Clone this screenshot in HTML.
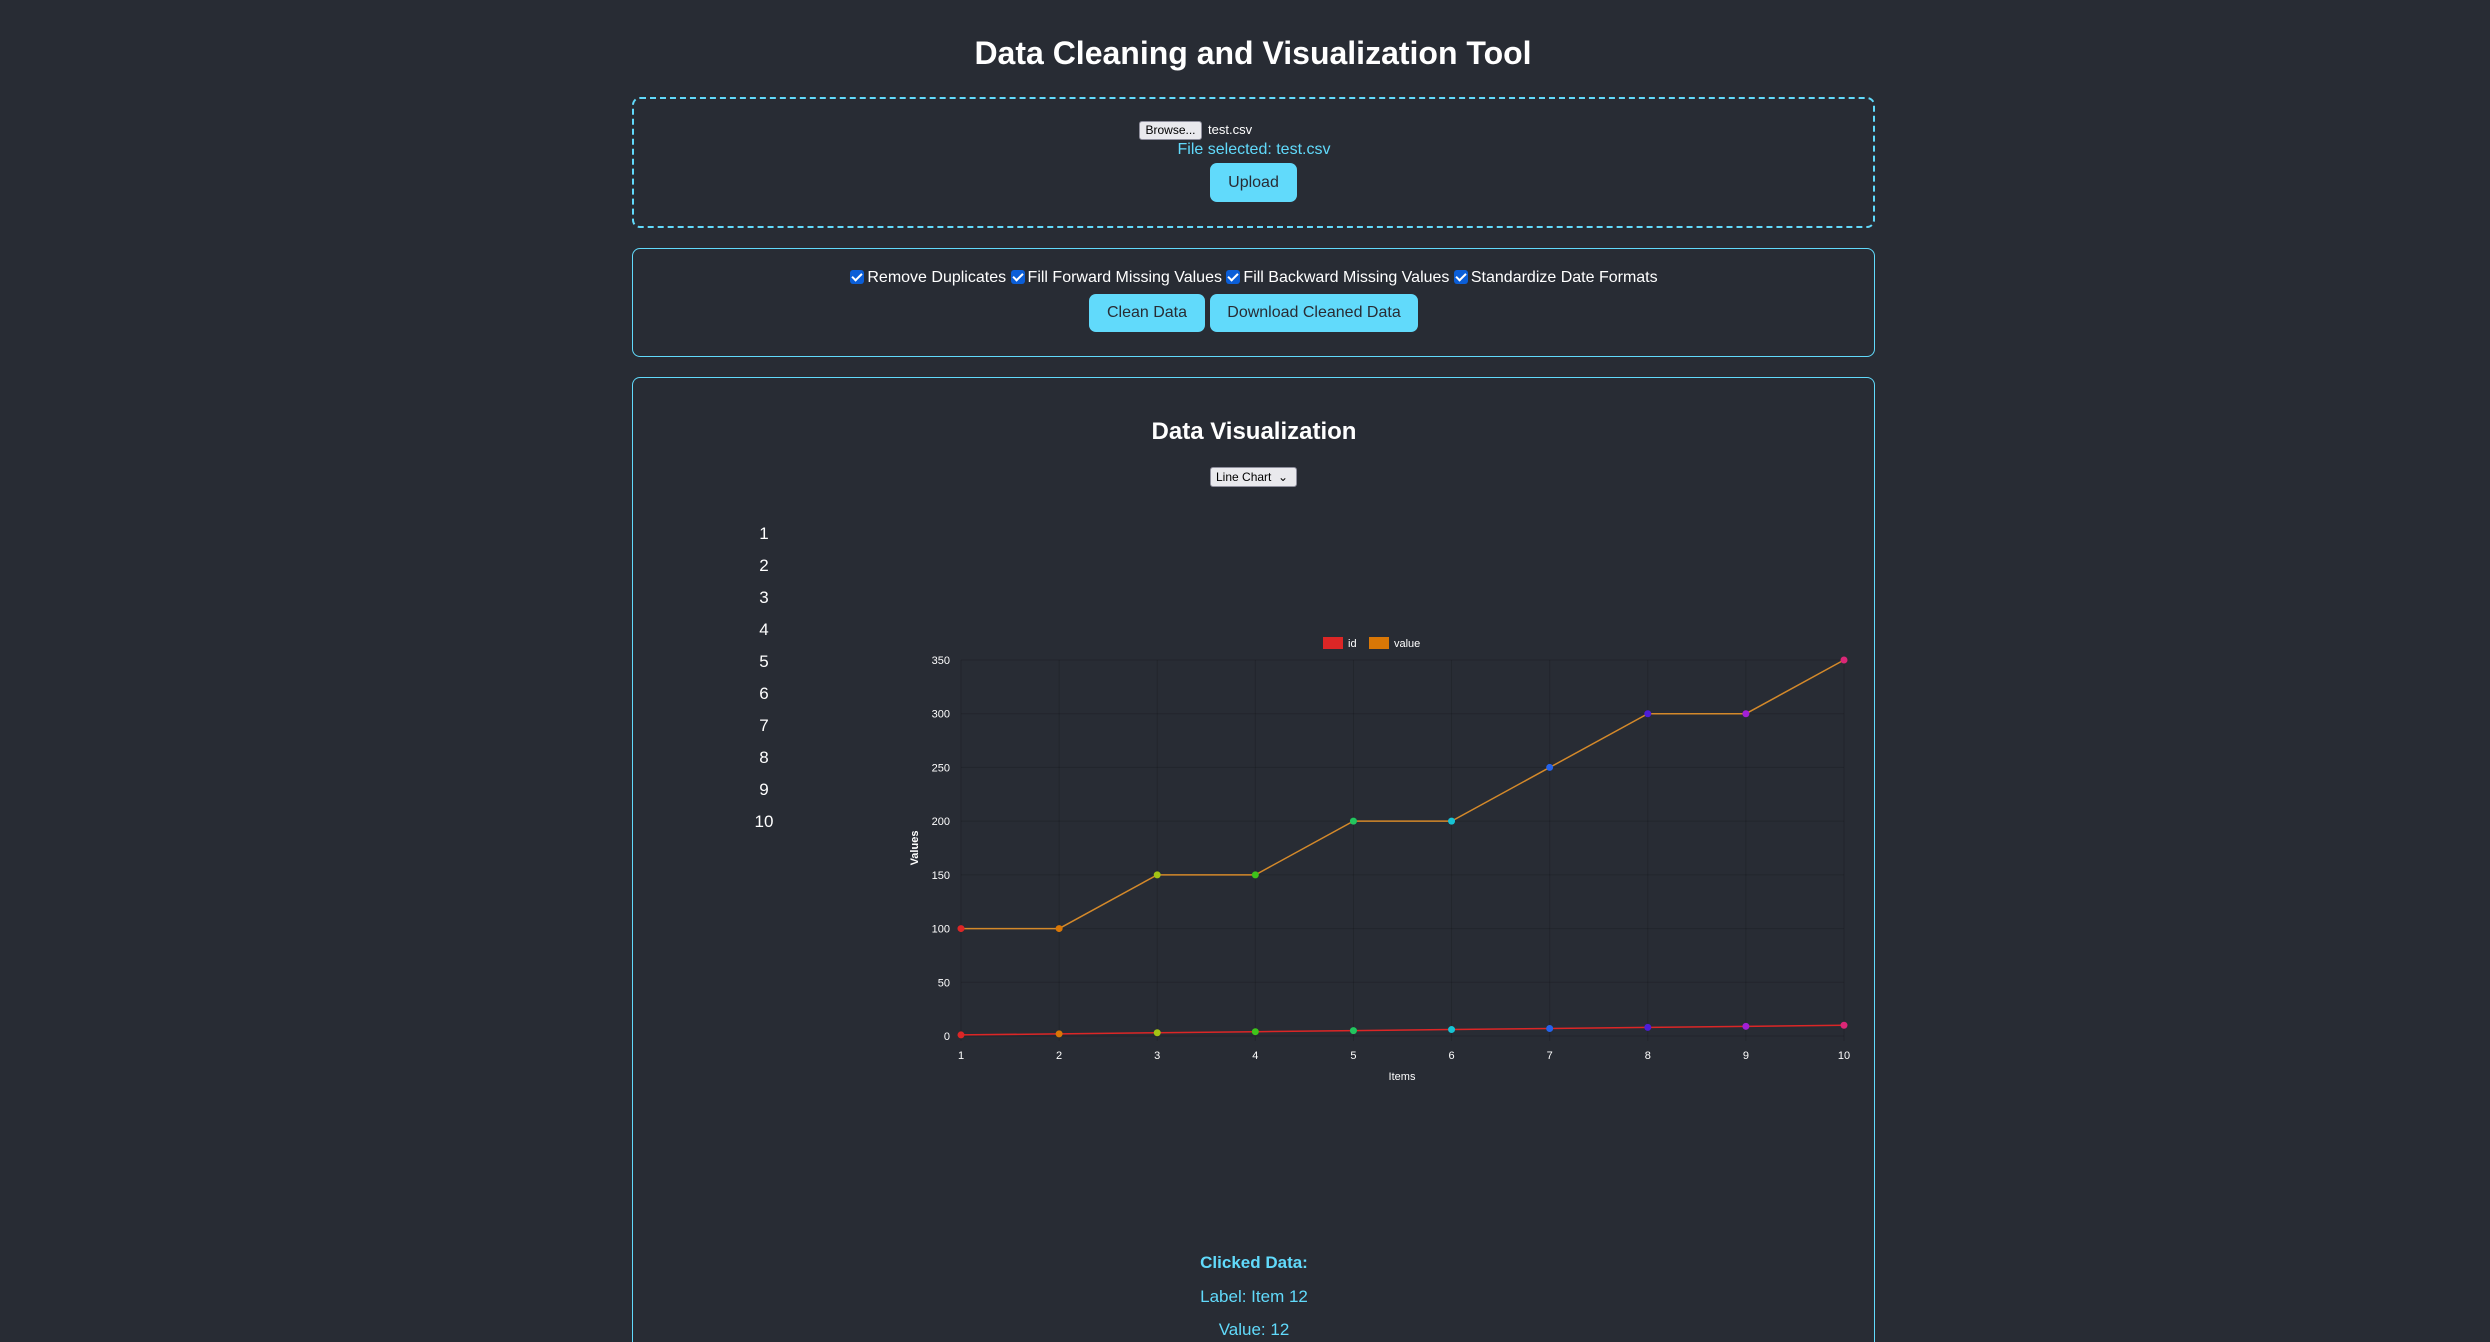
<!DOCTYPE html>
<html><head><meta charset="utf-8"><style>
*{box-sizing:border-box}
html,body{margin:0;width:2490px;height:1342px;overflow:hidden;background:#282c34}
body{font-family:"Liberation Sans",sans-serif;color:#fff;position:relative}
#wrap{position:absolute;left:0;top:0;width:2490px;height:1342px;overflow:hidden}
.abs{position:absolute}
h1{position:absolute;left:8px;width:2490px;top:35px;margin:0;text-align:center;font-size:32px;font-weight:bold}
.box{position:absolute;left:632px;width:1243px;border:1.5px solid #61dafb;border-radius:8px}
.btn{position:absolute;background:#61dafb;color:#282c34;border-radius:7px;font-size:16px;display:flex;align-items:center;justify-content:center}
.cb{display:inline-block;width:14px;height:14px;background:#0b5ed7;border-radius:3px;vertical-align:-2px;margin-right:3px;position:relative}
.cb:after{content:"";position:absolute;left:4px;top:1px;width:4px;height:8px;border:solid #fff;border-width:0 2px 2px 0;transform:rotate(45deg)}
.num{position:absolute;left:744px;width:40px;text-align:center;font-size:17px}
</style></head><body><div id="wrap">
<h1>Data Cleaning and Visualization Tool</h1>
<div class="box" style="top:97px;height:131px;border:2px dashed #61dafb"></div>
<div class="abs" style="left:1139px;top:121px;width:63px;height:19px;background:#e9e9ed;border:1px solid #8f8f9d;border-radius:3px;color:#000;font-size:12px;text-align:center;line-height:17px">Browse...</div>
<div class="abs" style="left:1208px;top:122px;font-size:13px">test.csv</div>
<div class="abs" style="left:0;width:2508px;text-align:center;top:141px;font-size:16px;color:#61dafb">File selected: test.csv</div>
<div class="btn" style="left:1210px;top:163px;width:87px;height:39px">Upload</div>

<div class="box" style="top:248px;height:109px"></div>
<div class="abs" style="left:0;width:2508px;text-align:center;top:269px;font-size:16px">
<span><span class="cb"></span>Remove Duplicates</span> <span><span class="cb"></span>Fill Forward Missing Values</span> <span><span class="cb"></span>Fill Backward Missing Values</span> <span><span class="cb"></span>Standardize Date Formats</span></div>
<div class="btn" style="left:1089px;top:294px;width:116px;height:38px">Clean Data</div>
<div class="btn" style="left:1210px;top:294px;width:208px;height:38px">Download Cleaned Data</div>

<div class="box" style="top:377px;height:965px;border-bottom:none;border-radius:8px 8px 0 0"></div>
<div class="abs" style="left:0;width:2508px;text-align:center;top:418px;font-size:24px;font-weight:bold">Data Visualization</div>
<div class="abs" style="left:1210px;top:467px;width:87px;height:20px;background:#e9e9ed;border:1px solid #8f8f9d;border-radius:3px;color:#000;font-size:12px;line-height:18px;padding-left:5px">Line Chart &nbsp;⌄</div>
<div id="list"></div>

<svg class="abs" style="left:0;top:0" width="2490" height="1342" id="chart"></svg>

<div class="abs" style="left:0;width:2508px;text-align:center;top:1253px;font-size:17px;font-weight:bold;color:#61dafb">Clicked Data:</div>
<div class="abs" style="left:0;width:2508px;text-align:center;top:1287px;font-size:17px;color:#61dafb">Label: Item 12</div>
<div class="abs" style="left:0;width:2508px;text-align:center;top:1320px;font-size:17px;line-height:20px;color:#61dafb">Value: 12</div>
</div>
<script>
const categories=["1","2","3","4","5","6","7","8","9","10"];
const idValues=[1,2,3,4,5,6,7,8,9,10];
const valueValues=[100,100,150,150,200,200,250,300,300,350];
const yTicks=[0,50,100,150,200,250,300,350];
const pointColors=["#dc2626","#d97706","#a3c414","#3ec41a","#22c55e","#17c3d4","#2563eb","#4c1dd8","#a21fd6","#db2777"];
const list=document.getElementById('list');
categories.forEach((c,i)=>{const d=document.createElement('div');d.className='num';d.style.top=(524+i*32)+'px';d.textContent=c;


list.appendChild(d);});
const svg=document.getElementById('chart');const NS='http://www.w3.org/2000/svg';
const X0=961,X1=1844,Y0=1036,Y1=660;
const xs=i=>X0+(X1-X0)*i/(categories.length-1);
const ys=v=>Y0-(Y0-Y1)*v/350;
function el(t,a){const e=document.createElementNS(NS,t);for(const k in a)e.setAttribute(k,a[k]);svg.appendChild(e);return e;}
yTicks.forEach(v=>{const g=el('line',{x1:X0,x2:X1,y1:ys(v),y2:ys(v),stroke:'rgba(0,0,0,0.14)','stroke-width':1});


const t=el('text',{x:950,y:ys(v)+4,'text-anchor':'end','font-size':11,fill:'#fff','font-family':'Liberation Sans'});t.textContent=v;

});
categories.forEach((c,i)=>{const g=el('line',{x1:xs(i),x2:xs(i),y1:Y1,y2:Y0+5,stroke:'rgba(0,0,0,0.14)','stroke-width':1});


const t=el('text',{x:xs(i),y:1059,'text-anchor':'middle','font-size':11,fill:'#fff','font-family':'Liberation Sans'});t.textContent=c;

});
const xt=el('text',{x:1402,y:1080,'text-anchor':'middle','font-size':11,fill:'#fff','font-family':'Liberation Sans'});xt.textContent='Items';


const yt=el('text',{x:0,y:0,'text-anchor':'middle','font-size':11,'font-weight':'bold',fill:'#fff','font-family':'Liberation Sans',transform:'translate(918,848) rotate(-90)'});yt.textContent='Values';


function series(vals,color,name){const p=el('polyline',{points:vals.map((v,i)=>xs(i)+','+ys(v)).join(' '),fill:'none',stroke:color,'stroke-width':1.5});


vals.forEach((v,i)=>{const c=el('circle',{cx:xs(i),cy:ys(v),r:3.5,fill:pointColors[i]});

});}
series(idValues,'#dc2626','id');series(valueValues,'#d4892a','value');
const lg=[['id','#dc2626',1323],['value','#d97706',1369]];
lg.forEach(l=>{const r=el('rect',{x:l[2],y:637,width:20,height:12,fill:l[1]});


const t=el('text',{x:l[2]+25,y:647,'font-size':11,fill:'#fff','font-family':'Liberation Sans'});t.textContent=l[0];

});
</script>
</body></html>
